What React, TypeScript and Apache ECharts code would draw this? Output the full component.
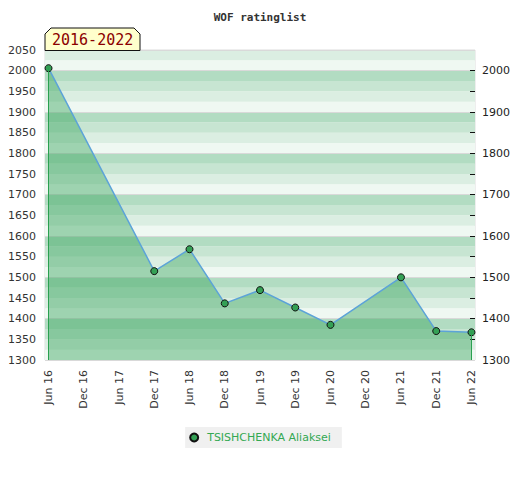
import React, { useEffect, useRef } from "react";
import * as echarts from "echarts";

const months = ["Jun 16", "Dec 16", "Jun 17", "Dec 17", "Jun 18", "Dec 18", "Jun 19", "Dec 19", "Jun 20", "Dec 20", "Jun 21", "Dec 21", "Jun 22"];
const pointMonths = ["Jun 16", "Dec 17", "Jun 18", "Dec 18", "Jun 19", "Dec 19", "Jun 20", "Jun 21", "Dec 21", "Jun 22"];
const ratings = [2006, 1515, 1568, 1437, 1469, 1427, 1385, 1500, 1370, 1367];
const rightLabels = [1300, 1400, 1500, 1600, 1700, 1800, 1900, 2000];
const rightTicks = [1350, 1400, 1450, 1500, 1550, 1600, 1650, 1700, 1750, 1800, 1850, 1900, 1950, 2000];
const playerName = "TSISHCHENKA Aliaksei";
const periodLabel = "2016-2022";
const titleText = "WOF ratinglist";

const Y_MIN = 1300;
const Y_MAX = 2050;

export default function App() {
  const ref = useRef<HTMLDivElement>(null);
  useEffect(() => {
    document.body.style.margin = "0";
    const chart = echarts.init(ref.current!, null, { renderer: "svg" });
    const data = pointMonths.map((m, i) => [months.indexOf(m), ratings[i]]);
    const first = data[0];
    const last = data[data.length - 1];
    const font = "DejaVu Sans";
    const plain = (v: number) => String(v);
    const baseY = {
      type: "value" as const,
      min: Y_MIN,
      max: Y_MAX,
      axisLine: { show: false },
      splitLine: { show: false },
    };
    chart.setOption({
      animation: false,
      title: {
        text: titleText,
        left: "center",
        top: 7,
        textStyle: { fontFamily: "DejaVu Sans Mono", fontWeight: "bold", fontSize: 11, color: "#333" },
      },
      legend: {
        top: 427,
        left: "center",
        backgroundColor: "#f0f0f0",
        padding: [5, 11, 5, 4],
        itemWidth: 16,
        itemHeight: 8,
        icon: "circle",
        textStyle: { color: "#33a852", fontFamily: font, fontSize: 11 },
        data: [playerName],
      },
      grid: { left: 45, right: 45, top: 50, bottom: 120, show: true, borderColor: "#dddddd", borderWidth: 1, backgroundColor: "transparent" },
      xAxis: {
        type: "value",
        min: -0.1,
        max: 12.1,
        axisLine: { show: false },
        axisTick: { show: false },
        splitLine: { show: false },
        axisLabel: {
          customValues: months.map((_, i) => i),
          formatter: (v: number) => months[Math.round(v)] ?? "",
          rotate: 90,
          margin: 10,
          fontFamily: font,
          fontSize: 11,
          color: "#333",
        },
      },
      yAxis: [
        {
          ...baseY,
          position: "left",
          interval: 50,
          axisTick: { show: false },
          axisLabel: { margin: 9, fontFamily: font, fontSize: 11, color: "#333", formatter: plain },
        },
        {
          ...baseY,
          position: "right",
          interval: 50,
          axisTick: { show: true, inside: true, length: 5, lineStyle: { color: "#111" }, customValues: rightTicks },
          axisLabel: { margin: 7, fontFamily: font, fontSize: 11, color: "#222", customValues: rightLabels, formatter: plain },
        },
        {
          ...baseY,
          position: "left",
          interval: 25,
          axisTick: { show: false },
          axisLabel: { show: false },
          splitArea: { show: true, areaStyle: { color: ["#eff8f2", "#dbeee2", "#c7e5d2", "#b2dcc2"] } },
        },
        {
          ...baseY,
          position: "left",
          interval: 100,
          axisTick: { show: false },
          axisLabel: { show: false },
          splitLine: { show: true, lineStyle: { color: "#d9d9d9", width: 1 } },
        },
      ],
      series: [
        {
          name: playerName,
          type: "line",
          yAxisIndex: 0,
          data,
          symbol: "circle",
          symbolSize: 7,
          itemStyle: { color: "#34a055", borderColor: "#111", borderWidth: 1 },
          lineStyle: { color: "#5ca3d8", width: 1.5 },
          areaStyle: { color: "rgba(54,165,90,0.44)", opacity: 1, origin: "start" },
          markLine: {
            silent: true,
            symbol: "none",
            label: { show: false },
            lineStyle: { color: "#2aa050", width: 1, type: "solid" },
            data: [
              [{ coord: [first[0], Y_MIN] }, { coord: [first[0], first[1]] }],
              [{ coord: [last[0], Y_MIN] }, { coord: [last[0], last[1]] }],
            ],
          },
          z: 3,
        },
      ],
      graphic: [
        {
          type: "polygon",
          shape: { points: [[45, 50.5], [45, 34], [51, 28], [134, 28], [140, 34], [140, 50.5]] },
          style: { fill: "#ffffcc", stroke: "#111", lineWidth: 1 },
          z: 10,
        },
        {
          type: "text",
          x: 52,
          y: 40,
          style: { text: periodLabel, fill: "#8b0000", font: '15px "DejaVu Sans Mono"', verticalAlign: "middle" },
          z: 11,
        },
      ],
    });
    return () => chart.dispose();
  }, []);
  return <div ref={ref} style={{ width: 520, height: 480 }} />;
}
